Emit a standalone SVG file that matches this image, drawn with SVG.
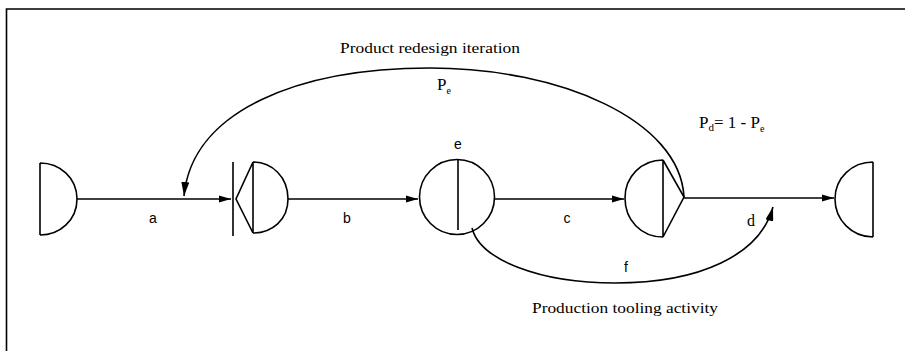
<svg xmlns="http://www.w3.org/2000/svg" width="905" height="351" viewBox="0 0 905 351">
<defs>
<style>
.ln{fill:none;stroke:#000;stroke-width:1.6}
.serif{font-family:"Liberation Serif","Times New Roman",serif;fill:#000}
.sans{font-family:"Liberation Sans",Arial,sans-serif;fill:#000}
</style>
<marker id="ah" viewBox="0 0 12 8" refX="12" refY="4" markerWidth="12" markerHeight="8" markerUnits="userSpaceOnUse" orient="auto">
<path d="M0,0.5 L12,4 L0,7.5 Z" fill="#000"/>
</marker>
<marker id="ah2" viewBox="0 0 14 8" refX="14" refY="4" markerWidth="14" markerHeight="8" markerUnits="userSpaceOnUse" orient="auto">
<path d="M0,0 L14,4 L0,8 Z" fill="#000"/>
</marker>
</defs>
<rect width="905" height="351" fill="#fff"/>
<path class="ln" d="M6.5,351 V9 H905" stroke-width="2"/>

<g id="node-start">
<path class="ln" d="M40,163 V235 M40,163 C60,163 77,178 77,199 C77,220 60,235 40,235"/>
</g>
<g id="node-decision1">
<path class="ln" d="M233,162 V236 M253,162 L236,199 L253,233 M253,162 V233 M253,162 C272,162 288,177 288,199 C288,220 272,233 253,233"/>
</g>
<g id="node-e">
<circle class="ln" cx="457" cy="197" r="37.5"/>
<path class="ln" d="M458,160 V230"/>
<text class="sans" x="458" y="149" font-size="14" text-anchor="middle">e</text>
</g>
<g id="node-decision2">
<path class="ln" d="M663,160 V237 M663,160 C641,160 625,177 625,198 C625,220 641,237 663,237 M663,160 L684,197 L663,237"/>
</g>
<g id="node-end">
<path class="ln" d="M873,162 V237 M873,162 C852,162 835,178 835,199 C835,220 852,237 873,237"/>
</g>

<g id="connectors">
<path class="ln" d="M77,199 H231" marker-end="url(#ah)"/>
<path class="ln" d="M288,199 H418" marker-end="url(#ah)"/>
<path class="ln" d="M494,199 H624" marker-end="url(#ah)"/>
<path class="ln" d="M684,198 H834" marker-end="url(#ah)"/>
<path class="ln" d="M684,197 C680,120 560,68 430,68 C300,68 192,110 184,196" marker-end="url(#ah2)"/>
<path class="ln" d="M472,228 C480,260 540,283 615,283 C700,283 760,255 773,207" marker-end="url(#ah2)"/>
</g>

<g id="labels">
<text class="sans" x="153" y="223" font-size="14" text-anchor="middle">a</text>
<text class="sans" x="347" y="223" font-size="14" text-anchor="middle">b</text>
<text class="sans" x="567" y="223" font-size="14" text-anchor="middle">c</text>
<text class="serif" x="751" y="226" font-size="16" text-anchor="middle">d</text>
<text class="sans" x="626" y="272" font-size="14" text-anchor="middle">f</text>
<text class="serif" x="430" y="53" font-size="15" text-anchor="middle" textLength="180" lengthAdjust="spacingAndGlyphs">Product redesign iteration</text>
<text class="serif" x="437" y="90" font-size="17">P<tspan font-size="10" dy="4">e</tspan></text>
<text class="serif" x="699" y="128" font-size="17">P<tspan font-size="11" dy="3">d</tspan><tspan dy="-3">= 1 - P</tspan><tspan font-size="10" dy="4">e</tspan></text>
<text class="serif" x="625" y="313" font-size="15" text-anchor="middle" textLength="186" lengthAdjust="spacingAndGlyphs">Production tooling activity</text>
</g>
</svg>
